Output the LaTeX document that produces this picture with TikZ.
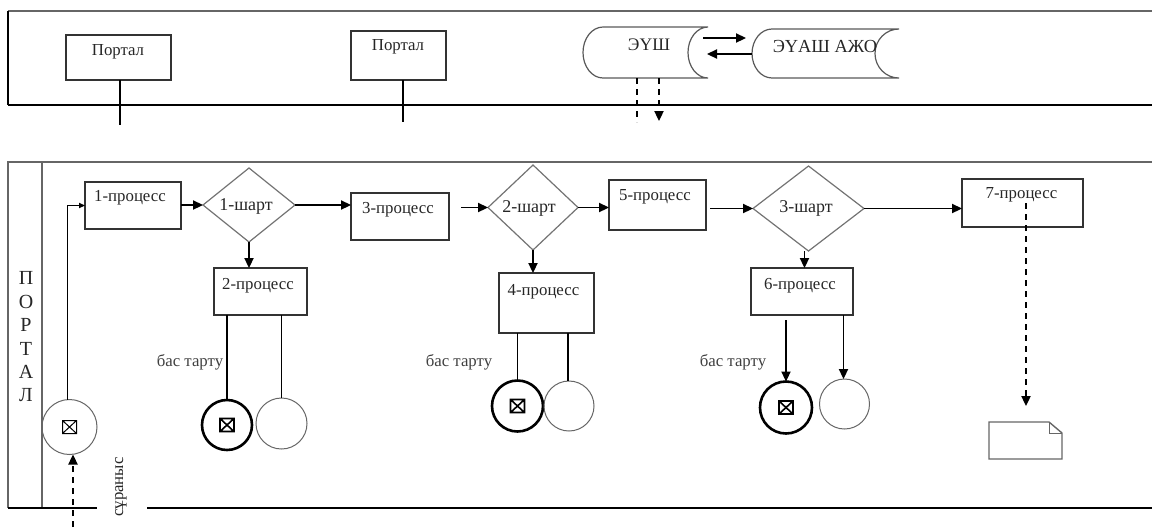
\documentclass[tikz,border=0pt]{standalone}
\usepackage{fontspec}
\setmainfont{Liberation Serif}
\usetikzlibrary{shapes.geometric,arrows.meta,calc}
\newcommand\xmark[2]{\draw[line width=#2] ($(#1)+(-7,-6.5)$) rectangle ($(#1)+(7,6.5)$) ($(#1)+(-7,-6.5)$) -- ($(#1)+(7,6.5)$) ($(#1)+(-7,6.5)$) -- ($(#1)+(7,-6.5)$);}
\begin{document}
\begin{tikzpicture}[x=0.5pt,y=-0.5pt,
 every node/.style={inner sep=0pt, outer sep=0pt},
 txt/.style={font=\fontsize{8.4}{10}\selectfont, text=black!85},
 bx/.style 2 args={draw=black!80, line width=0.6pt, rectangle, minimum width=#1*0.5pt, minimum height=#2*0.5pt},
 ghost/.style 2 args={rectangle, minimum width=#1*0.5pt, minimum height=#2*0.5pt},
 dm/.style 2 args={draw=black!55, line width=0.6pt, diamond, minimum width=#1*0.5pt, minimum height=#2*0.5pt},
 circ/.style={draw=black!60, line width=0.5pt, circle, minimum size=#1*0.5pt},
 endc/.style={draw=black, line width=1.3pt, circle, minimum size=#1*0.5pt},
 arr/.style={line width=0.7pt, -{Triangle[length=5pt,width=4.6pt]}},
 ln/.style={line width=0.6pt},
 dsh/.style={line width=0.8pt, dash pattern=on 3pt off 2.5pt},
 store/.style={draw=black!65, line width=0.6pt},
]
\useasboundingbox (0,0) rectangle (1152,527);

% ---------- lanes ----------
\draw[draw=black!60, line width=0.6pt] (1152,11) -- (8,11);
\draw[line width=0.6pt] (8,11) -- (8,105);
\draw[line width=0.9pt] (8,105) -- (1152,105);
\draw[draw=black!60, line width=0.8pt] (1152,162) -- (8,162) -- (8,508);
\draw[draw=black!60, line width=0.8pt] (42,162) -- (42,508);
\draw[line width=0.9pt] (8,508) -- (97,508);
\draw[line width=0.9pt] (147,508) -- (1152,508);
\node[font=\fontsize{10}{11.7}\selectfont, align=center, text=black!85] (lane) at (26,337) {П\\О\\Р\\Т\\А\\Л};

% ---------- top lane ----------
\node[bx={105}{45}] (portal1) at (118.5,57.5) {};
\node[txt] (portal1t) at (118,52) {Портал};
\node[bx={95}{49}] (portal2) at (398.5,55.5) {};
\node[txt] (portal2t) at (398,47) {Портал};
\coordinate (portal1e) at (120,125);
\coordinate (portal2e) at (403,122);
\draw[ln] (portal1e |- portal1.south) -- (portal1e);
\draw[ln] (portal2e |- portal2.south) -- (portal2e);

\node[ghost={125}{51}] (eush) at (645.5,52.5) {};
\draw[store] (603,27) -- (708,27) .. controls (697,27) and (688,38.4) .. (688,52.5) .. controls (688,66.6) and (697,78) .. (708,78) -- (603,78) .. controls (592,78) and (583,66.6) .. (583,52.5) .. controls (583,38.4) and (592,27) .. (603,27) -- cycle;
\node[txt, font=\fontsize{8.8}{10}\selectfont] (eusht) at (649,45) {ЭҮШ};

\node[ghost={147}{49}] (eauash) at (825.5,53.5) {};
\draw[store] (772,29) -- (899,29) .. controls (885.7,29) and (875,40) .. (875,53.5) .. controls (875,67) and (885.7,78) .. (899,78) -- (772,78) .. controls (761,78) and (752,67) .. (752,53.5) .. controls (752,40) and (761,29) .. (772,29) -- cycle;
\node[txt, font=\fontsize{9.2}{10}\selectfont] (eauasht) at (825,46) {ЭҮАШ АЖО};

\coordinate (a1s) at (703,38); \coordinate (a1e) at (746,38);
\coordinate (a2s) at (752,54); \coordinate (a2e) at (707,54);
\draw[arr] (a1s) -- (a1e);
\draw[arr] (a2s) -- (a2e);

\coordinate (d1e) at (637,122); \coordinate (d2e) at (659,121);
\draw[dsh] (d1e |- eush.south) -- (d1e);
\draw[dsh, -{Triangle[length=5pt,width=4.6pt]}] (d2e |- eush.south) -- (d2e);

% ---------- process lane ----------
\node[circ=55] (start) at (69.5,427) {};
\xmark{start}{0.5pt}
\coordinate (in) at (73,527);
\draw[dsh, -{Triangle[length=5pt,width=4.6pt]}] (in) -- (in |- start.south);
\node[txt, rotate=90] (req) at (121,487) {сұраныс};

\node[bx={96}{47}] (p1) at (133,205.5) {};
\node[txt] (p1t) at (130,198) {1-процесс};
\draw[ln, -{Triangle[length=3pt,width=2.6pt]}] ([xshift=-1pt]start.north) |- (p1.west);

\node[dm={92}{74}] (d1) at (249,205) {};
\node[txt, font=\fontsize{9}{10}\selectfont] (d1t) at (246,206) {1-шарт};
\draw[arr] (p1.east |- d1.west) -- (d1.west);

\node[bx={98}{47}] (p3) at (400,216.5) {};
\node[txt] (p3t) at (398,210) {3-процесс};
\draw[arr] (d1.east) -- (d1.east -| p3.west);

\node[bx={93}{47}] (p2) at (260.5,291.5) {};
\node[txt] (p2t) at (258,286) {2-процесс};
\draw[arr] (d1.south) -- (d1.south |- p2.north);

\node[endc=50] (x1) at (227,425) {};
\xmark{x1}{0.8pt}
\node[circ=51] (o1) at (281.5,423.5) {};
\draw[ln] (x1.north |- p2.south) -- (x1.north);
\draw[ln] (o1.north |- p2.south) -- (o1.north);
\node[txt, text=black!75] (r1) at (190,362) {бас тарту};

\node[dm={90}{85}] (d2) at (533,207.5) {};
\node[txt, font=\fontsize{9}{10}\selectfont] (d2t) at (529,208) {2-шарт};
\draw[arr] ([xshift=6pt]p3.east |- d2.west) -- (d2.west);

\node[bx={95}{60}] (p4) at (546.5,303) {};
\node[txt] (p4t) at (543.5,292) {4-процесс};
\draw[arr] (d2.south) -- (d2.south |- p4.north);

\node[endc=51] (x2) at (517.5,406) {};
\xmark{x2}{0.8pt}
\node[circ=50] (o2) at (569,406) {};
\draw[ln, line width=0.9pt] (x2.north |- p4.south) -- (x2.north);
\draw[ln, line width=0.9pt] ([xshift=-0.5pt]o2.north |- p4.south) -- ([xshift=-0.5pt]o2.north);
\node[txt, text=black!75] (r2) at (459,362) {бас тарту};

\node[bx={97}{50}] (p5) at (657.5,205) {};
\node[txt] (p5t) at (655,197) {5-процесс};
\draw[arr] (d2.east) -- (d2.east -| p5.west);

\node[dm={111}{85}] (d3) at (808.5,208.5) {};
\node[txt, font=\fontsize{9}{10}\selectfont] (d3t) at (806,208) {3-шарт};
\draw[arr] ([xshift=2pt]p5.east |- d3.west) -- (d3.west);

\node[bx={121}{48}] (p7) at (1022.5,203) {};
\node[txt] (p7t) at (1021.5,195) {7-процесс};
\draw[arr] (d3.east) -- (d3.east -| p7.west);

\node[bx={102}{47}] (p6) at (802,291.5) {};
\node[txt] (p6t) at (800,286) {6-процесс};
\draw[arr] ([xshift=-2pt]d3.south) -- ([xshift=-2pt]d3.south |- p6.north);

\node[endc=52] (x3) at (786,407.5) {};
\xmark{x3}{0.8pt}
\node[circ=50] (o3) at (844.5,404) {};
\draw[arr] ([yshift=-2.5pt]x3.north |- p6.south) -- (x3.north);
\draw[arr] ([xshift=-0.5pt]o3.north |- p6.south) -- ([xshift=-0.5pt]o3.north);
\node[txt, text=black!75] (r3) at (733,362) {бас тарту};

% document
\node[ghost={73}{37}] (doc) at (1025.5,440.5) {};
\draw[draw=black!60, line width=0.7pt] (doc.north west) -- ([xshift=-6.5pt]doc.north east) -- ([yshift=-5.5pt]doc.north east) -- (doc.south east) -- (doc.south west) -- cycle;
\draw[draw=black!60, line width=0.5pt] ([xshift=-6.5pt]doc.north east) |- ([yshift=-5.5pt]doc.north east);
\coordinate (p7s) at (1026,203);
\coordinate (p7e) at (1026,406);
\draw[dsh, -{Triangle[length=5pt,width=4.6pt]}] (p7s) -- (p7e);
\end{tikzpicture}
\end{document}
